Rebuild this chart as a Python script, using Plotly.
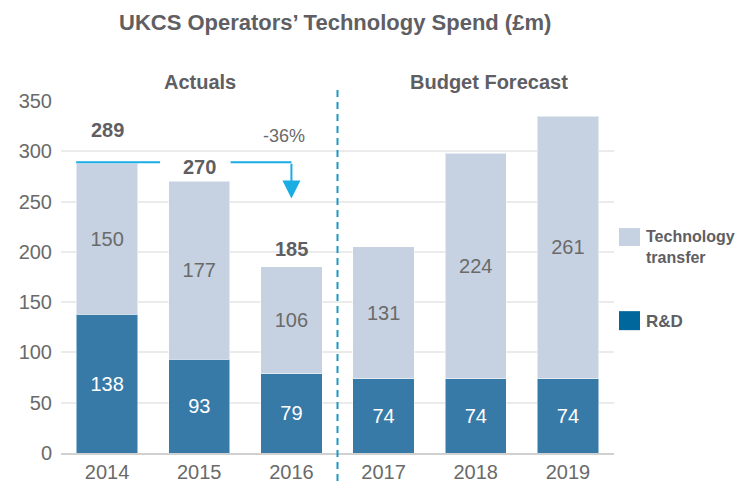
import plotly.graph_objects as go

years = ["2014", "2015", "2016", "2017", "2018", "2019"]
rnd = [138, 93, 79, 74, 74, 74]
tech_transfer = [150, 177, 106, 131, 224, 261]
totals_shown = {"2014": 289, "2015": 270, "2016": 185}
y_ticks = [0, 50, 100, 150, 200, 250, 300, 350]

FONT = "Liberation Sans"
GREY = "#6a6a6a"
DARK = "#5e5e63"
C_RND = "#377AA7"
C_TT = "#C6D2E2"
C_RND_LEG = "#00679C"
C_ARROW = "#1AADE4"
C_DASH = "#1C98C4"

fig = go.Figure()
fig.add_trace(go.Bar(
    x=years, y=rnd, name="R&D", marker=dict(color=C_RND, line=dict(color="rgba(255,255,255,0.5)", width=1)),
    text=[str(v) for v in rnd], textposition="inside", insidetextanchor="middle",
    textfont=dict(family=FONT, size=20, color="white"), hoverinfo="skip"))
fig.add_trace(go.Bar(
    x=years, y=tech_transfer, name="Technology transfer",
    marker=dict(color=C_TT, line=dict(color="rgba(255,255,255,0.5)", width=1)),
    text=[str(v) for v in tech_transfer], textposition="inside", insidetextanchor="middle",
    textfont=dict(family=FONT, size=20, color=GREY), hoverinfo="skip"))

# page body has an 8px offset; margins compensate
fig.update_layout(
    barmode="stack", bargap=0.335, width=746, height=486,
    margin=dict(l=53, r=140, t=93, b=41, autoexpand=False),
    plot_bgcolor="white", paper_bgcolor="white", showlegend=False,
    font=dict(family=FONT, color=GREY),
    uniformtext=dict(mode=False),
)
fig.update_yaxes(range=[0, 350], tickvals=y_ticks, showgrid=True, gridcolor="#EBEBEB", gridwidth=1.5,
                 zeroline=False, showline=False, ticks="", ticklabelstandoff=8, automargin=False,
                 tickfont=dict(family=FONT, size=20, color=GREY))
fig.update_xaxes(type="category", range=[-0.5, len(years) - 0.5], showline=True, linecolor="#D0D0D0",
                 linewidth=2, ticks="", automargin=False,
                 tickfont=dict(family=FONT, size=20, color=GREY), ticklabelstandoff=0)

annotations = []
annotations.append(dict(text="<b>UKCS Operators’ Technology Spend (£m)</b>", xref="paper", yref="paper",
                        x=0.495, y=1.222, xanchor="center", yanchor="middle", showarrow=False,
                        font=dict(family=FONT, size=22, color=DARK)))
annotations.append(dict(text="<b>Actuals</b>", xref="x", yref="paper", x=1.01, y=1.054, yanchor="middle",
                        showarrow=False, font=dict(family=FONT, size=20, color=DARK)))
annotations.append(dict(text="<b>Budget Forecast</b>", xref="x", yref="paper", x=4.14, y=1.054,
                        yanchor="middle", showarrow=False, font=dict(family=FONT, size=20, color=DARK)))
shifts = {"2014": 32, "2015": 14, "2016": 18}
for yr, tot in totals_shown.items():
    annotations.append(dict(text=f"<b>{tot}</b>", x=years.index(yr), y=tot, xref="x", yref="y",
                            showarrow=False, yshift=shifts[yr], font=dict(family=FONT, size=20, color=DARK)))
annotations.append(dict(text="-36%", x=2, y=289, xref="x", yref="y", showarrow=False, yshift=26, xshift=-7,
                        font=dict(family=FONT, size=18, color=GREY)))
annotations.append(dict(x=2, y=253, ax=2, ay=289, xref="x", yref="y", axref="x", ayref="y", text="",
                        showarrow=True, arrowhead=2, arrowsize=1.8, arrowwidth=2, arrowcolor=C_ARROW))
annotations.append(dict(text="<b>Technology<br>transfer</b>", xref="paper", yref="paper", x=1.054, y=0.585,
                        xanchor="left", yanchor="middle", align="left", showarrow=False,
                        font=dict(family=FONT, size=16, color=DARK)))
annotations.append(dict(text="<b>R&D</b>", xref="paper", yref="paper", x=1.054, y=0.375,
                        xanchor="left", yanchor="middle", showarrow=False,
                        font=dict(family=FONT, size=17, color=DARK)))
fig.update_layout(annotations=annotations)

shapes = [
    dict(type="line", xref="x", yref="y", x0=-0.335, x1=0.575, y0=289, y1=289, line=dict(color=C_ARROW, width=2)),
    dict(type="line", xref="x", yref="y", x0=1.34, x1=2.0, y0=289, y1=289, line=dict(color=C_ARROW, width=2)),
    dict(type="line", xref="x", yref="paper", x0=2.5, x1=2.5, y0=1.031, y1=-0.094,
         line=dict(color=C_DASH, width=2, dash="7px,5px")),
    dict(type="rect", xref="paper", yref="paper", x0=1.009, x1=1.047, y0=0.588, y1=0.639,
         fillcolor=C_TT, line=dict(width=0)),
    dict(type="rect", xref="paper", yref="paper", x0=1.009, x1=1.047, y0=0.349, y1=0.403,
         fillcolor=C_RND_LEG, line=dict(width=0)),
]
fig.update_layout(shapes=shapes)

fig.write_html("out.html")
